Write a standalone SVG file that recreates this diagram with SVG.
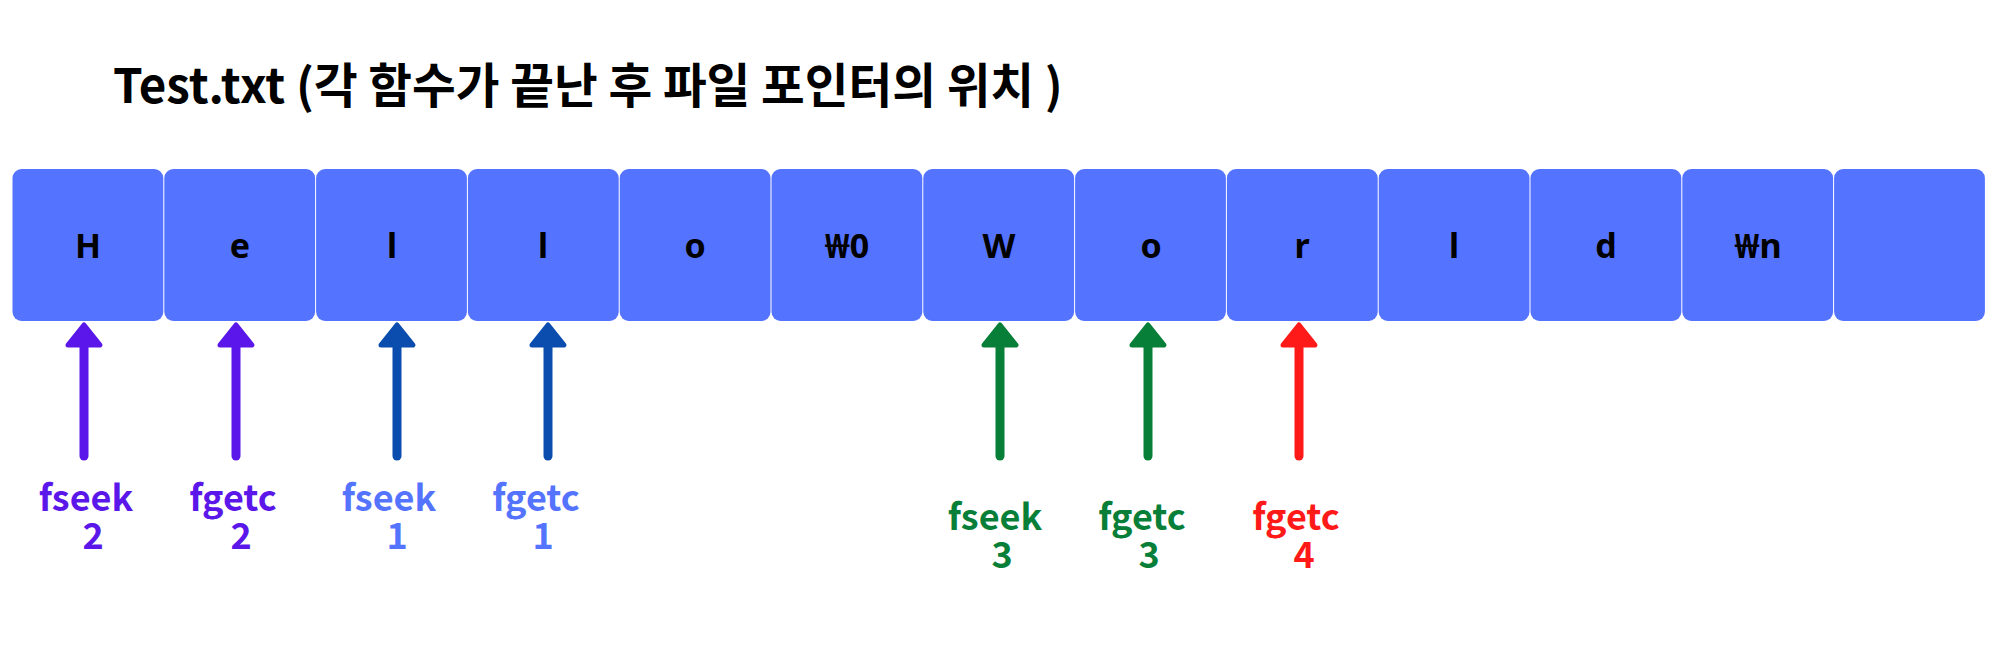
<svg xmlns="http://www.w3.org/2000/svg" width="2000" height="663" viewBox="0 0 2000 663">
<style>
text{font-family:"Noto Sans CJK KR","Noto Sans",sans-serif;font-weight:700;text-anchor:middle}
.title{font-size:47.5px;fill:#000;text-anchor:start}
.cell rect{fill:#5473FF}
.cell text{font-family:"Noto Sans","Noto Sans CJK KR",sans-serif;font-size:34px;fill:#000}
.lbl text{font-size:36px}
.shaft{fill:none;stroke-width:9;stroke-linecap:round}
.head{stroke-width:5;stroke-linejoin:round}
.purple{fill:#5B17EA;stroke:#5B17EA}
.dblue{fill:#0A4DAE;stroke:#0A4DAE}
.green{fill:#087F38;stroke:#087F38}
.red{fill:#FF1A1A;stroke:#FF1A1A}
.t-purple{fill:#5B17EA}
.t-lblue{fill:#5473FF}
.t-green{fill:#087F38}
.t-red{fill:#FF1A1A}
</style>
<rect width="2000" height="663" fill="#fff"/>
<text class="title" x="113" y="103">Test.txt (각 함수가 끝난 후 파일 포인터의 위치 )</text>

<g id="cell-0" class="cell"><rect x="12.5" y="169" width="150.8" height="152" rx="9"/><text x="88" y="258">H</text></g>
<g id="cell-1" class="cell"><rect x="164.3" y="169" width="150.8" height="152" rx="9"/><text x="240" y="258">e</text></g>
<g id="cell-2" class="cell"><rect x="316.1" y="169" width="150.8" height="152" rx="9"/><text x="392" y="258">l</text></g>
<g id="cell-3" class="cell"><rect x="467.9" y="169" width="150.8" height="152" rx="9"/><text x="543" y="258">l</text></g>
<g id="cell-4" class="cell"><rect x="619.7" y="169" width="150.8" height="152" rx="9"/><text x="695" y="258">o</text></g>
<g id="cell-5" class="cell"><rect x="771.5" y="169" width="150.8" height="152" rx="9"/><text x="847" y="258">₩0</text></g>
<g id="cell-6" class="cell"><rect x="923.3" y="169" width="150.8" height="152" rx="9"/><text x="999" y="258">W</text></g>
<g id="cell-7" class="cell"><rect x="1075.1" y="169" width="150.8" height="152" rx="9"/><text x="1151" y="258">o</text></g>
<g id="cell-8" class="cell"><rect x="1226.9" y="169" width="150.8" height="152" rx="9"/><text x="1302" y="258">r</text></g>
<g id="cell-9" class="cell"><rect x="1378.7" y="169" width="150.8" height="152" rx="9"/><text x="1454" y="258">l</text></g>
<g id="cell-10" class="cell"><rect x="1530.5" y="169" width="150.8" height="152" rx="9"/><text x="1606" y="258">d</text></g>
<g id="cell-11" class="cell"><rect x="1682.3" y="169" width="150.8" height="152" rx="9"/><text x="1758" y="258">₩n</text></g>
<g id="cell-12" class="cell"><rect x="1834.1" y="169" width="150.8" height="152" rx="9"/></g>

<g id="connectors">
<g class="purple"><path class="shaft" d="M84 456V344"/><path class="head" d="M84 325L100 345H68Z"/></g>
<g class="purple"><path class="shaft" d="M236 456V344"/><path class="head" d="M236 325L252 345H220Z"/></g>
<g class="dblue"><path class="shaft" d="M397 456V344"/><path class="head" d="M397 325L413 345H381Z"/></g>
<g class="dblue"><path class="shaft" d="M548 456V344"/><path class="head" d="M548 325L564 345H532Z"/></g>
<g class="green"><path class="shaft" d="M1000 456V344"/><path class="head" d="M1000 325L1016 345H984Z"/></g>
<g class="green"><path class="shaft" d="M1148 456V344"/><path class="head" d="M1148 325L1164 345H1132Z"/></g>
<g class="red"><path class="shaft" d="M1299 456V344"/><path class="head" d="M1299 325L1315 345H1283Z"/></g>
</g>

<g id="label-fseek2" class="lbl t-purple"><text x="86" y="511">fseek</text><text x="93" y="549">2</text></g>
<g id="label-fgetc2" class="lbl t-purple"><text x="233" y="511">fgetc</text><text x="241" y="549">2</text></g>
<g id="label-fseek1" class="lbl t-lblue"><text x="389" y="511">fseek</text><text x="397" y="549">1</text></g>
<g id="label-fgetc1" class="lbl t-lblue"><text x="536" y="511">fgetc</text><text x="543" y="549">1</text></g>
<g id="label-fseek3" class="lbl t-green"><text x="995" y="530">fseek</text><text x="1002" y="568">3</text></g>
<g id="label-fgetc3" class="lbl t-green"><text x="1142" y="530">fgetc</text><text x="1149" y="568">3</text></g>
<g id="label-fgetc4" class="lbl t-red"><text x="1296" y="530">fgetc</text><text x="1304" y="568">4</text></g>
</svg>
